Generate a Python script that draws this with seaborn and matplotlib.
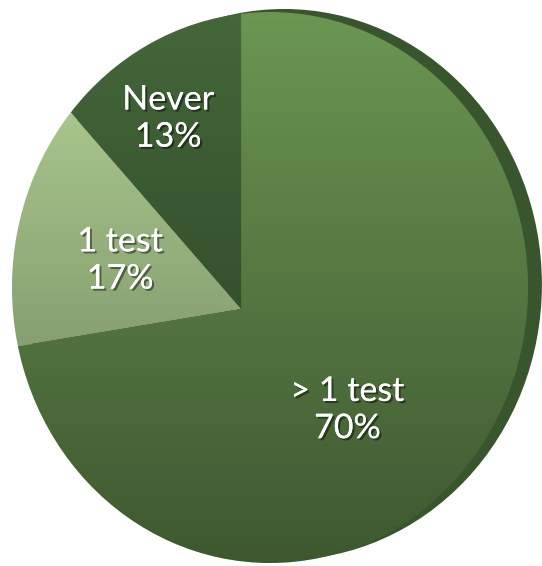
import matplotlib
matplotlib.use("Agg")
import numpy as np
import matplotlib.pyplot as plt
import matplotlib.patheffects as pe
from matplotlib.patches import Ellipse
from matplotlib.transforms import Affine2D
import seaborn as sns

# data
categories = ["Never", "1 test", "> 1 test"]
shares = [13, 17, 70]
label_texts = ["Never\n13%", "1 test\n17%", "> 1 test\n70%"]
slice_colors = ["#44673a", "#b5d597", "#6b9652"]

sns.set_theme(style="white")
plt.rcParams["font.family"] = ["Lato", "DejaVu Sans"]

XLIM = (-1.0465, 1.0543)
YLIM = (-1.0109, 1.0436)

fig = plt.figure(figsize=(5.42, 5.66), dpi=100)
ax = fig.add_axes([0, 0, 1, 1])

# dark rim behind the face, gives the tilted-disc look
rim = Ellipse((0.054, 0.011), 2.0, 2.0, facecolor="#39552d", edgecolor="none", zorder=0)
ax.add_patch(rim)

# face of the disc, used to clip slices and shading
face = Ellipse((0, 0), 2.0, 2.0, facecolor="none", edgecolor="none")
ax.add_patch(face)

wedges, _ = ax.pie(shares, colors=slice_colors, startangle=90, counterclock=True,
                   radius=2.0, wedgeprops=dict(linewidth=0, zorder=1))

# tilt: the apex sits off-centre and the slices are slightly sheared
tilt = Affine2D(np.array([[1.022, 0.0, -0.112],
                          [-0.165, 1.0, -0.078],
                          [0.0, 0.0, 1.0]]))
for w in wedges:
    w.set_transform(tilt + ax.transData)
    w.set_clip_on(True)
    w.set_clip_path(face)

# top-to-bottom darkening across the face
shade = np.zeros((256, 2, 4))
shade[..., 3] = np.linspace(0.0, 0.42, 256)[:, None]
img = ax.imshow(shade, extent=(-1, 1, -1, 1), origin="upper", aspect="auto",
                zorder=2, interpolation="bilinear")
img.set_clip_path(face)

# label spots (data coords), placed like the original slide
label_pos = [(-0.395, 0.615), (-0.581, 0.100), (0.300, -0.443)]
shadow = [pe.withSimplePatchShadow(offset=(1.5, -1.5), shadow_rgbFace="black", alpha=0.45), pe.Normal()]
for txt, (x, y) in zip(label_texts, label_pos):
    ax.text(x, y, txt, ha="center", va="center", color="white", fontsize=24.5,
            linespacing=1.2, path_effects=shadow, zorder=3)

ax.set_xlim(*XLIM)
ax.set_ylim(*YLIM)
ax.set_aspect("auto")
ax.axis("off")

fig.savefig("out.png", dpi=100, facecolor="white")
